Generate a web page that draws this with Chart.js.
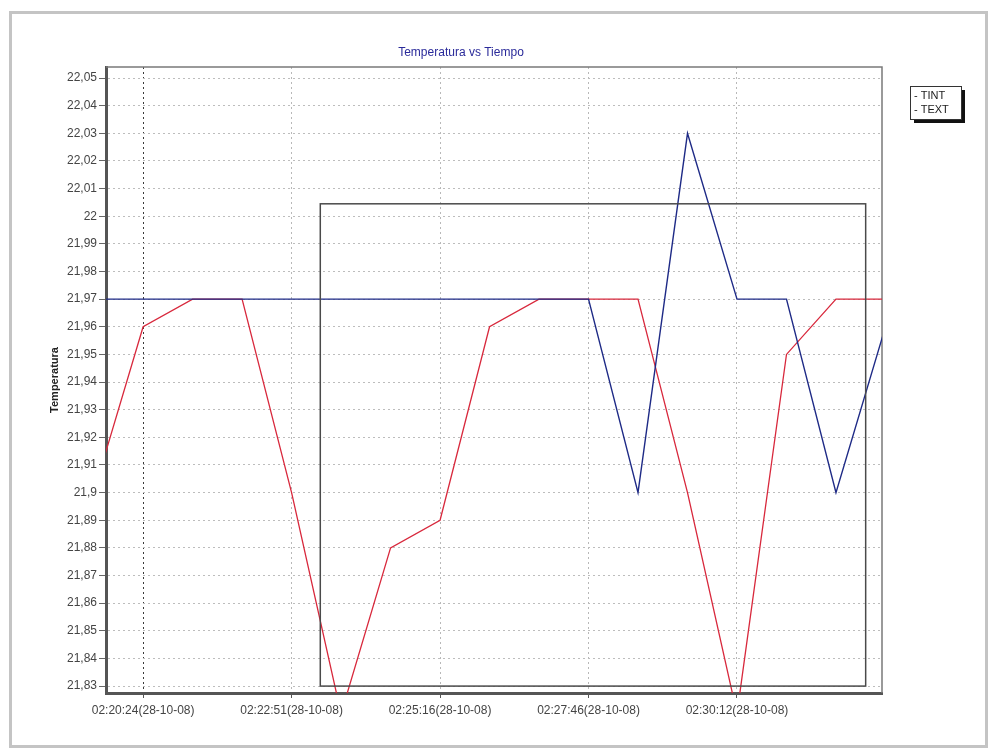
<!DOCTYPE html>
<html>
<head>
<meta charset="utf-8">
<script src="https://cdn.jsdelivr.net/npm/chart.js@4.4.1/dist/chart.umd.min.js"></script>
<style>
    html, body { margin: 0; padding: 0; background: #fff; }
    #frame { position: absolute; left: 9px; top: 11px; width: 973px; height: 731px; border: 3px solid #c4c4c4; }
    #wrap  { position: absolute; left: 0; top: 0; width: 992px; height: 749px; }
</style>
</head>
<body>
<div id="frame"></div>
<div id="wrap"><canvas id="tempChart"></canvas></div>
<script>
'use strict';
    // ===================== 数据 =====================
    // sample index (one sample ~49 s); the first and last fall just outside the view
    const sampleIdx = [-1, 0, 1, 2, 3, 4, 5, 6, 7, 8, 9, 10, 11, 12, 13, 14, 15];
    const tint = [21.90, 21.96, 21.97, 21.97, 21.90, 21.82, 21.88, 21.89, 21.96,
                  21.97, 21.97, 21.97, 21.90, 21.82, 21.95, 21.97, 21.97];
    const text = [21.97, 21.97, 21.97, 21.97, 21.97, 21.97, 21.97, 21.97, 21.97,
                  21.97, 21.97, 21.90, 22.03, 21.97, 21.97, 21.90, 21.96];

    const xTickIdx    = [0, 3, 6, 9, 12];
    const xTickLabels = ['02:20:24(28-10-08)', '02:22:51(28-10-08)', '02:25:16(28-10-08)',
                         '02:27:46(28-10-08)', '02:30:12(28-10-08)'];
    const yTicks = [21.83, 21.84, 21.85, 21.86, 21.87, 21.88, 21.89, 21.90, 21.91, 21.92, 21.93, 21.94,
                    21.95, 21.96, 21.97, 21.98, 21.99, 22.00, 22.01, 22.02, 22.03, 22.04, 22.05];

    // visible window and the drag-zoom rectangle, in data units
    const xView = [-0.75, 14.93];
    const yView = [21.8275, 22.054];
    const zoomBox = { x0: 3.58, x1: 14.6, y0: 21.83, y1: 22.0045 };

    const FONT = '"Liberation Sans", Arial, sans-serif';
    const fmt = v => String(+v.toFixed(2)).replace('.', ',');

    // ===================== 插件 =====================
    const plotFrame = {
        id: 'plotFrame',
        beforeDatasetsDraw(chart) {
            const { ctx, chartArea: a } = chart;
            ctx.save();
            ctx.strokeStyle = '#7a7a7a';
            ctx.lineWidth = 1.5;
            ctx.beginPath();
            ctx.moveTo(a.left, a.top);
            ctx.lineTo(a.right, a.top);
            ctx.lineTo(a.right, a.bottom);
            ctx.stroke();
            ctx.restore();
        }
    };

    const zoomRect = {
        id: 'zoomRect',
        afterDatasetsDraw(chart) {
            const { ctx, scales: { x, y } } = chart;
            const l = x.getPixelForValue(zoomBox.x0), r = x.getPixelForValue(zoomBox.x1);
            const t = y.getPixelForValue(zoomBox.y1), b = y.getPixelForValue(zoomBox.y0);
            ctx.save();
            ctx.strokeStyle = '#4a4a4a';
            ctx.lineWidth = 1.5;
            ctx.strokeRect(l, t, r - l, b - t);
            ctx.restore();
        }
    };

    const boxLegend = {
        id: 'boxLegend',
        afterDraw(chart) {
            const { ctx, chartArea: a } = chart;
            const left = a.right + 28, top = 86, w = 51, h = 33;
            ctx.save();
            ctx.fillStyle = '#111';
            ctx.fillRect(left + 4, top + 4, w, h);
            ctx.fillStyle = '#fff';
            ctx.fillRect(left, top, w, h);
            ctx.strokeStyle = '#333';
            ctx.lineWidth = 1;
            ctx.strokeRect(left + 0.5, top + 0.5, w, h);
            ctx.font = `11px ${FONT}`;
            ctx.fillStyle = '#222';
            ctx.textBaseline = 'middle';
            chart.data.datasets.forEach((ds, i) => {
                ctx.fillText('- ' + ds.label, left + 4, top + 10 + i * 14);
            });
            ctx.restore();
        }
    };

    // ===================== 图表 =====================
    const toPoints = vals => sampleIdx.map((k, i) => ({ x: k, y: vals[i] }));

    new Chart(document.getElementById('tempChart').getContext('2d'), {
        type: 'line',
        data: {
            datasets: [{
                label: 'TINT',
                data: toPoints(tint),
                borderColor: '#d8283c',
                borderWidth: 1.3,
                pointRadius: 0,
                tension: 0,
                clip: 0,
                order: 1
            }, {
                label: 'TEXT',
                data: toPoints(text),
                borderColor: '#1e2a86',
                borderWidth: 1.4,
                pointRadius: 0,
                tension: 0,
                clip: 0,
                order: 0
            }]
        },
        options: {
            responsive: true,
            maintainAspectRatio: false,
            animation: false,
            layout: { padding: { left: 40, right: 110, top: 40, bottom: 0 } },
            scales: {
                x: {
                    type: 'linear',
                    min: xView[0],
                    max: xView[1],
                    afterBuildTicks: s => { s.ticks = xTickIdx.map(v => ({ value: v })); },
                    afterFit: s => { s.height = 56; },
                    ticks: {
                        callback: (v, i) => xTickLabels[i],
                        autoSkip: false,
                        maxRotation: 0,
                        padding: 5,
                        color: '#444',
                        font: { family: FONT, size: 12 }
                    },
                    grid: {
                        color: c => (c.index === 0 ? '#3a3a3a' : '#b8b8b8'),
                        tickLength: 5,
                        tickColor: '#555'
                    },
                    border: { color: '#555', width: 3, dash: [2, 3] }
                },
                y: {
                    min: yView[0],
                    max: yView[1],
                    afterBuildTicks: s => { s.ticks = yTicks.map(v => ({ value: v })); },
                    afterFit: s => { s.width = 66; },
                    ticks: {
                        callback: v => fmt(v),
                        padding: 2,
                        color: '#444',
                        font: { family: FONT, size: 12 }
                    },
                    grid: { color: '#bdbdbd', tickLength: 7, tickColor: '#666' },
                    border: { color: '#555', width: 3, dash: [2, 3] },
                    title: {
                        display: true,
                        text: 'Temperatura',
                        color: '#222',
                        padding: { top: 8, bottom: 0 },
                        font: { family: FONT, size: 11, weight: 'bold' }
                    }
                }
            },
            plugins: {
                legend: { display: false },
                tooltip: { enabled: false },
                title: {
                    display: true,
                    text: 'Temperatura vs Tiempo',
                    color: '#2a2a9a',
                    padding: { top: 7, bottom: 8 },
                    font: { family: FONT, size: 12, weight: 'normal', lineHeight: 1 }
                }
            }
        },
        plugins: [plotFrame, zoomRect, boxLegend]
    });
</script>
</body>
</html>
